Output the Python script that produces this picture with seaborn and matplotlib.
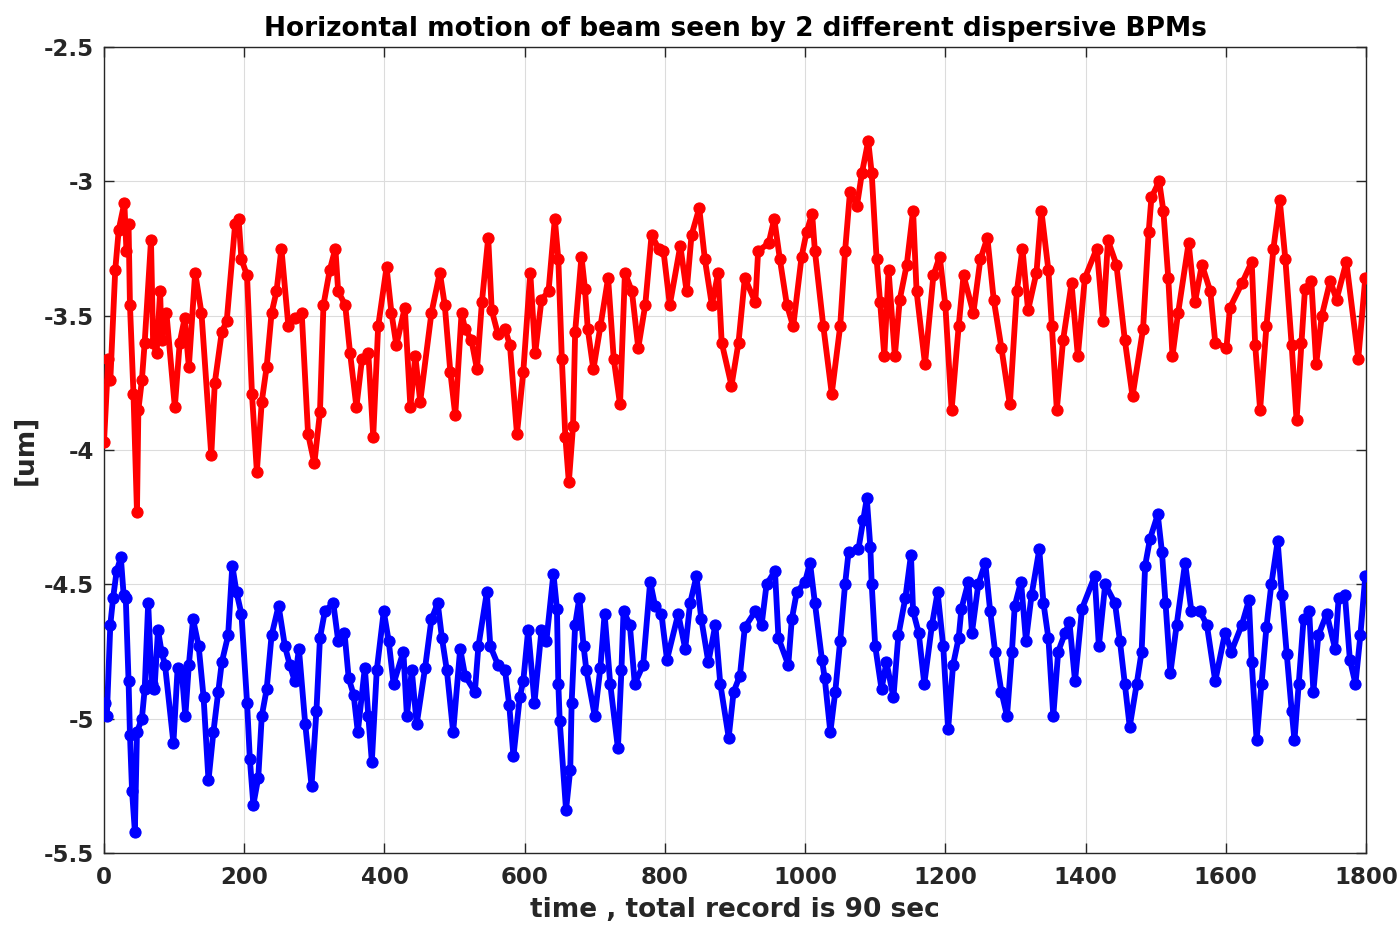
import numpy as np
import pandas as pd
import matplotlib
matplotlib.use("Agg")
import matplotlib.pyplot as plt
import seaborn as sns
from matplotlib.ticker import FuncFormatter

# ---- data (sample index, position in um) ----
red_x = [0, 6, 9, 16, 21, 29, 32, 35, 37, 42, 47, 49, 54, 58, 67, 70, 75, 80, 82, 89,
         101, 108, 115, 121, 130, 139, 153, 158, 168, 175, 187, 192, 196, 204, 211, 218,
         225, 232, 239, 246, 253, 263, 272, 282, 291, 300, 308, 313, 322, 330, 334, 344,
         351, 360, 368, 377, 384, 391, 403, 410, 417, 429, 437, 444, 451, 467, 479, 486,
         494, 501, 510, 515, 524, 532, 539, 548, 553, 562, 572, 579, 589, 598, 608, 615,
         624, 634, 643, 648, 653, 658, 663, 669, 672, 681, 686, 690, 698, 708, 719, 727,
         736, 743, 753, 762, 772, 781, 791, 798, 807, 822, 831, 838, 849, 857, 867, 876,
         881, 895, 905, 914, 929, 933, 948, 956, 964, 974, 983, 995, 1002, 1010, 1014,
         1026, 1038, 1050, 1057, 1064, 1074, 1081, 1090, 1095, 1102, 1107, 1113, 1119,
         1128, 1135, 1145, 1154, 1159, 1171, 1183, 1192, 1200, 1209, 1219, 1226, 1240,
         1250, 1260, 1269, 1280, 1292, 1302, 1310, 1318, 1330, 1337, 1347, 1352, 1359,
         1368, 1380, 1389, 1399, 1416, 1425, 1432, 1444, 1456, 1467, 1482, 1490, 1494,
         1505, 1511, 1518, 1524, 1532, 1547, 1556, 1566, 1578, 1585, 1601, 1606, 1623,
         1637, 1642, 1649, 1658, 1668, 1677, 1685, 1694, 1701, 1708, 1713, 1722, 1729,
         1737, 1749, 1758, 1772, 1789, 1799]
red_y = [-3.97, -3.66, -3.74, -3.33, -3.18, -3.08, -3.26, -3.16, -3.46, -3.79, -4.23,
         -3.85, -3.74, -3.60, -3.22, -3.60, -3.64, -3.41, -3.59, -3.49, -3.84, -3.60,
         -3.51, -3.69, -3.34, -3.49, -4.02, -3.75, -3.56, -3.52, -3.16, -3.14, -3.29,
         -3.35, -3.79, -4.08, -3.82, -3.69, -3.49, -3.41, -3.25, -3.54, -3.51, -3.49,
         -3.94, -4.05, -3.86, -3.46, -3.33, -3.25, -3.41, -3.46, -3.64, -3.84, -3.66,
         -3.64, -3.95, -3.54, -3.32, -3.49, -3.61, -3.47, -3.84, -3.65, -3.82, -3.49,
         -3.34, -3.46, -3.71, -3.87, -3.49, -3.55, -3.59, -3.70, -3.45, -3.21, -3.48,
         -3.57, -3.55, -3.61, -3.94, -3.71, -3.34, -3.64, -3.44, -3.41, -3.14, -3.29,
         -3.66, -3.95, -4.12, -3.91, -3.56, -3.28, -3.40, -3.55, -3.70, -3.54, -3.36,
         -3.66, -3.83, -3.34, -3.41, -3.62, -3.46, -3.20, -3.25, -3.26, -3.46, -3.24,
         -3.41, -3.20, -3.10, -3.29, -3.46, -3.34, -3.60, -3.76, -3.60, -3.36, -3.45,
         -3.26, -3.23, -3.14, -3.29, -3.46, -3.54, -3.28, -3.19, -3.12, -3.26, -3.54,
         -3.79, -3.54, -3.26, -3.04, -3.09, -2.97, -2.85, -2.97, -3.29, -3.45, -3.65,
         -3.33, -3.65, -3.44, -3.31, -3.11, -3.41, -3.68, -3.35, -3.28, -3.46, -3.85,
         -3.54, -3.35, -3.49, -3.29, -3.21, -3.44, -3.62, -3.83, -3.41, -3.25, -3.48,
         -3.34, -3.11, -3.33, -3.54, -3.85, -3.59, -3.38, -3.65, -3.36, -3.25, -3.52,
         -3.22, -3.31, -3.59, -3.80, -3.55, -3.19, -3.06, -3.00, -3.11, -3.36, -3.65,
         -3.49, -3.23, -3.45, -3.31, -3.41, -3.60, -3.62, -3.47, -3.38, -3.30, -3.61,
         -3.85, -3.54, -3.25, -3.07, -3.29, -3.61, -3.89, -3.60, -3.40, -3.37, -3.68,
         -3.50, -3.37, -3.44, -3.30, -3.66, -3.36]

blue_x = [1, 4, 9, 13, 18, 24, 28, 31, 35, 37, 40, 44, 47, 54, 58, 63, 68, 72, 77, 82,
          87, 99, 105, 111, 116, 121, 127, 135, 142, 149, 156, 163, 168, 177, 183, 189,
          196, 204, 208, 213, 220, 225, 232, 239, 249, 258, 265, 272, 278, 287, 296, 303,
          308, 315, 327, 334, 343, 349, 356, 362, 372, 377, 382, 389, 399, 406, 413, 427,
          432, 439, 446, 458, 467, 476, 482, 489, 498, 508, 515, 529, 534, 546, 551, 562,
          572, 578, 584, 593, 598, 605, 614, 624, 631, 641, 646, 648, 650, 659, 665, 667,
          672, 678, 684, 688, 700, 708, 714, 722, 733, 738, 741, 750, 757, 769, 779, 786,
          795, 803, 819, 829, 836, 845, 852, 862, 872, 879, 891, 898, 907, 914, 929, 938,
          945, 957, 962, 976, 981, 988, 1000, 1007, 1014, 1024, 1028, 1036, 1043, 1050,
          1057, 1062, 1076, 1083, 1088, 1093, 1095, 1100, 1109, 1116, 1126, 1133, 1143,
          1151, 1154, 1162, 1170, 1181, 1189, 1197, 1204, 1211, 1219, 1223, 1233, 1238,
          1247, 1257, 1264, 1271, 1280, 1288, 1295, 1299, 1308, 1315, 1323, 1334, 1340,
          1347, 1354, 1361, 1371, 1377, 1385, 1395, 1413, 1419, 1428, 1442, 1449, 1456,
          1463, 1473, 1480, 1485, 1492, 1503, 1509, 1514, 1521, 1530, 1542, 1551, 1563,
          1573, 1585, 1599, 1608, 1623, 1633, 1637, 1644, 1651, 1658, 1665, 1674, 1680,
          1687, 1694, 1698, 1704, 1711, 1719, 1725, 1732, 1744, 1756, 1761, 1770, 1777,
          1785, 1792, 1799]
blue_y = [-4.94, -4.99, -4.65, -4.55, -4.45, -4.40, -4.54, -4.55, -4.86, -5.06, -5.27,
          -5.42, -5.05, -5.00, -4.89, -4.57, -4.87, -4.89, -4.67, -4.75, -4.80, -5.09,
          -4.81, -4.83, -4.99, -4.80, -4.63, -4.73, -4.92, -5.23, -5.05, -4.90, -4.79,
          -4.69, -4.43, -4.53, -4.61, -4.94, -5.15, -5.32, -5.22, -4.99, -4.89, -4.69,
          -4.58, -4.73, -4.80, -4.86, -4.74, -5.02, -5.25, -4.97, -4.70, -4.60, -4.57,
          -4.71, -4.68, -4.85, -4.91, -5.05, -4.81, -4.99, -5.16, -4.82, -4.60, -4.71,
          -4.87, -4.75, -4.99, -4.82, -5.02, -4.81, -4.63, -4.57, -4.70, -4.82, -5.05,
          -4.74, -4.84, -4.90, -4.73, -4.53, -4.73, -4.80, -4.82, -4.95, -5.14, -4.92,
          -4.86, -4.67, -4.94, -4.67, -4.71, -4.46, -4.59, -4.87, -5.01, -5.34, -5.19,
          -4.94, -4.65, -4.55, -4.73, -4.82, -4.99, -4.81, -4.61, -4.87, -5.11, -4.82,
          -4.60, -4.65, -4.87, -4.80, -4.49, -4.58, -4.61, -4.78, -4.61, -4.74, -4.57,
          -4.47, -4.63, -4.79, -4.65, -4.87, -5.07, -4.90, -4.84, -4.66, -4.60, -4.65,
          -4.50, -4.45, -4.70, -4.80, -4.63, -4.53, -4.49, -4.42, -4.57, -4.78, -4.85,
          -5.05, -4.90, -4.71, -4.50, -4.38, -4.37, -4.26, -4.18, -4.36, -4.50, -4.73,
          -4.89, -4.79, -4.92, -4.69, -4.55, -4.39, -4.60, -4.68, -4.87, -4.65, -4.53,
          -4.73, -5.04, -4.80, -4.70, -4.59, -4.49, -4.68, -4.50, -4.42, -4.60, -4.75,
          -4.90, -4.99, -4.75, -4.58, -4.49, -4.71, -4.54, -4.37, -4.57, -4.70, -4.99,
          -4.75, -4.68, -4.64, -4.86, -4.59, -4.47, -4.73, -4.50, -4.57, -4.71, -4.87,
          -5.03, -4.87, -4.75, -4.43, -4.33, -4.24, -4.38, -4.57, -4.83, -4.65, -4.42,
          -4.60, -4.60, -4.65, -4.86, -4.68, -4.75, -4.65, -4.56, -4.79, -5.08, -4.87,
          -4.66, -4.50, -4.34, -4.54, -4.76, -4.97, -5.08, -4.87, -4.63, -4.60, -4.90,
          -4.69, -4.61, -4.74, -4.55, -4.54, -4.78, -4.87, -4.69, -4.47]

x_ticks = [0, 200, 400, 600, 800, 1000, 1200, 1400, 1600, 1800]
y_ticks = [-5.5, -5, -4.5, -4, -3.5, -3, -2.5]
title_text = "Horizontal motion of beam seen by 2 different dispersive BPMs"
xlabel_text = "time , total record is 90 sec"
ylabel_text = "[um]"

sns.set_theme(style="whitegrid")
plt.rcParams["font.family"] = ["DejaVu Sans"]

fig = plt.figure(figsize=(14, 9.25), dpi=100)
ax = fig.add_axes([0.0743, 0.0778, 0.9014, 0.8714])

df_red = pd.DataFrame({"t": red_x, "pos": red_y})
df_blue = pd.DataFrame({"t": blue_x, "pos": blue_y})

for df, col in [(df_red, "#ff0000"), (df_blue, "#0000ff")]:
    sns.lineplot(data=df, x="t", y="pos", ax=ax, color=col, linewidth=4.2,
                 marker="o", markersize=8, markeredgecolor=col,
                 markerfacecolor=col, markeredgewidth=0.8, estimator=None,
                 sort=False, zorder=3)

ax.set_xlim(0, 1800)
ax.set_ylim(-5.5, -2.5)
ax.set_xticks(x_ticks)
ax.set_yticks(y_ticks)
ax.yaxis.set_major_formatter(FuncFormatter(lambda v, p: "%g" % v))

ax.set_facecolor("white")
ax.grid(True, color="#dcdcdc", linewidth=0.8)
for s in ax.spines.values():
    s.set_visible(True)
    s.set_color("#262626")
    s.set_linewidth(1.0)

ax.tick_params(axis="both", which="both", direction="in", length=7, width=1,
               color="#262626", top=True, right=True, bottom=True, left=True,
               labelsize=16.5, labelcolor="#262626")
ax.tick_params(axis="x", pad=9)
ax.tick_params(axis="y", pad=7)
for lab in ax.get_xticklabels() + ax.get_yticklabels():
    lab.set_fontweight("bold")

ax.set_title(title_text, fontsize=19, fontweight="bold", color="black", pad=8)
ax.set_xlabel(xlabel_text, fontsize=19, fontweight="bold", color="#262626", labelpad=6)
ax.set_ylabel(ylabel_text, fontsize=19, fontweight="bold", color="#262626", labelpad=4)

fig.savefig("out.png", dpi=100, facecolor="white")
